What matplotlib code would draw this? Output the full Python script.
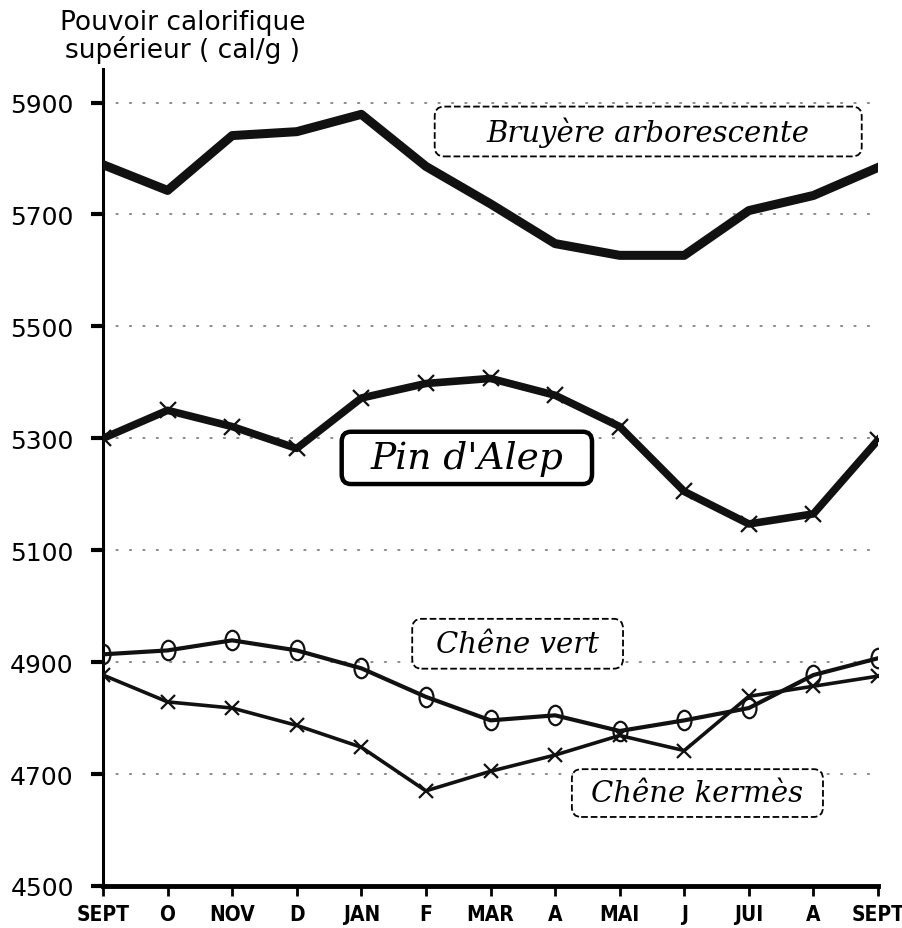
import matplotlib
matplotlib.use("Agg")
import matplotlib.pyplot as plt
from matplotlib.path import Path
from matplotlib.transforms import Affine2D
from matplotlib.patches import FancyBboxPatch

months = ["SEPT", "O", "NOV", "D", "JAN", "F", "MAR", "A", "MAI", "J", "JUI", "A", "SEPT"]
bruyere = [5789, 5743, 5841, 5848, 5879, 5786, 5719, 5648, 5627, 5627, 5707, 5734, 5784]
pin_alep = [5300, 5350, 5321, 5282, 5372, 5398, 5407, 5377, 5321, 5205, 5147, 5165, 5297]
chene_vert = [4914, 4921, 4939, 4921, 4889, 4838, 4796, 4805, 4777, 4796, 4818, 4877, 4907]
chene_kermes = [4877, 4829, 4818, 4787, 4748, 4670, 4705, 4734, 4769, 4742, 4839, 4857, 4875]
yticks = [4500, 4700, 4900, 5100, 5300, 5500, 5700, 5900]
grid_levels = [4700, 4900, 5100, 5300, 5500, 5700, 5900]

fig = plt.figure(figsize=(9.03, 9.29), dpi=100)
ax = fig.add_axes([103/903, 1-887/929, 775/903, 817/929])

x = list(range(len(months)))

# gridlines
for g in grid_levels:
    ax.plot([0, 12], [g, g], color="#8a8a8a", lw=1.4, ls=(0, (0.7, 6.2)), zorder=1,
            dash_capstyle="round")

oval = Path.unit_circle().transformed(Affine2D().scale(0.72, 1.0))

ax.plot(x, bruyere, color="#111111", lw=6.5, solid_joinstyle="round", zorder=3)
ax.plot(x, pin_alep, color="#111111", lw=5.5, marker="x", ms=12, mew=1.6,
        solid_joinstyle="round", zorder=3)
ax.plot(x, chene_vert, color="#111111", lw=3.0, marker=oval, ms=14, mew=1.6,
        mfc="none", solid_joinstyle="round", zorder=3)
ax.plot(x, chene_kermes, color="#111111", lw=2.6, marker="x", ms=10, mew=1.6,
        solid_joinstyle="round", zorder=3)

ax.set_xlim(0, 12)
ax.set_ylim(4500, 5960)
ax.set_xticks(x)
ax.set_xticklabels(months, family=["Liberation Sans Narrow", "DejaVu Sans"],
                   fontsize=15, fontweight="semibold", fontstretch="condensed")
ax.set_yticks(yticks)
ax.set_yticklabels([str(v) for v in yticks], fontsize=18, family="DejaVu Sans")

for s in ["top", "right"]:
    ax.spines[s].set_visible(False)
ax.spines["left"].set_linewidth(2.2)
ax.spines["bottom"].set_linewidth(3.5)
ax.tick_params(axis="y", direction="out", length=9, width=3, pad=12)
ax.tick_params(axis="x", direction="out", length=7, width=2, pad=6)


def label_box(x0, x1, y0, y1, text, size, dashed=True, lw=1.3):
    patch = FancyBboxPatch((x0, y0), x1 - x0, y1 - y0,
                           boxstyle="round,pad=0,rounding_size=0.012",
                           transform=ax.transAxes, fc="white", ec="black",
                           ls="--" if dashed else "-", lw=lw, zorder=5,
                           mutation_aspect=1.0)
    ax.add_patch(patch)
    ax.text((x0 + x1) / 2, (y0 + y1) / 2, text, transform=ax.transAxes,
            ha="center", va="center", fontsize=size, family="DejaVu Serif",
            style="italic", zorder=6)


label_box(0.428, 0.979, 0.893, 0.954, "Bruyère arborescente", 21)
label_box(0.308, 0.631, 0.492, 0.556, "Pin d'Alep", 27, dashed=False, lw=3.2)
label_box(0.399, 0.671, 0.266, 0.327, "Chêne vert", 21)
label_box(0.605, 0.929, 0.0845, 0.143, "Chêne kermès", 21)

fig.text(183/903, 1-10/929, "Pouvoir calorifique\nsupérieur ( cal/g )", ha="center",
         va="top", fontsize=19, family="DejaVu Sans", linespacing=1.0)

fig.savefig("out.png", dpi=100, facecolor="white")
